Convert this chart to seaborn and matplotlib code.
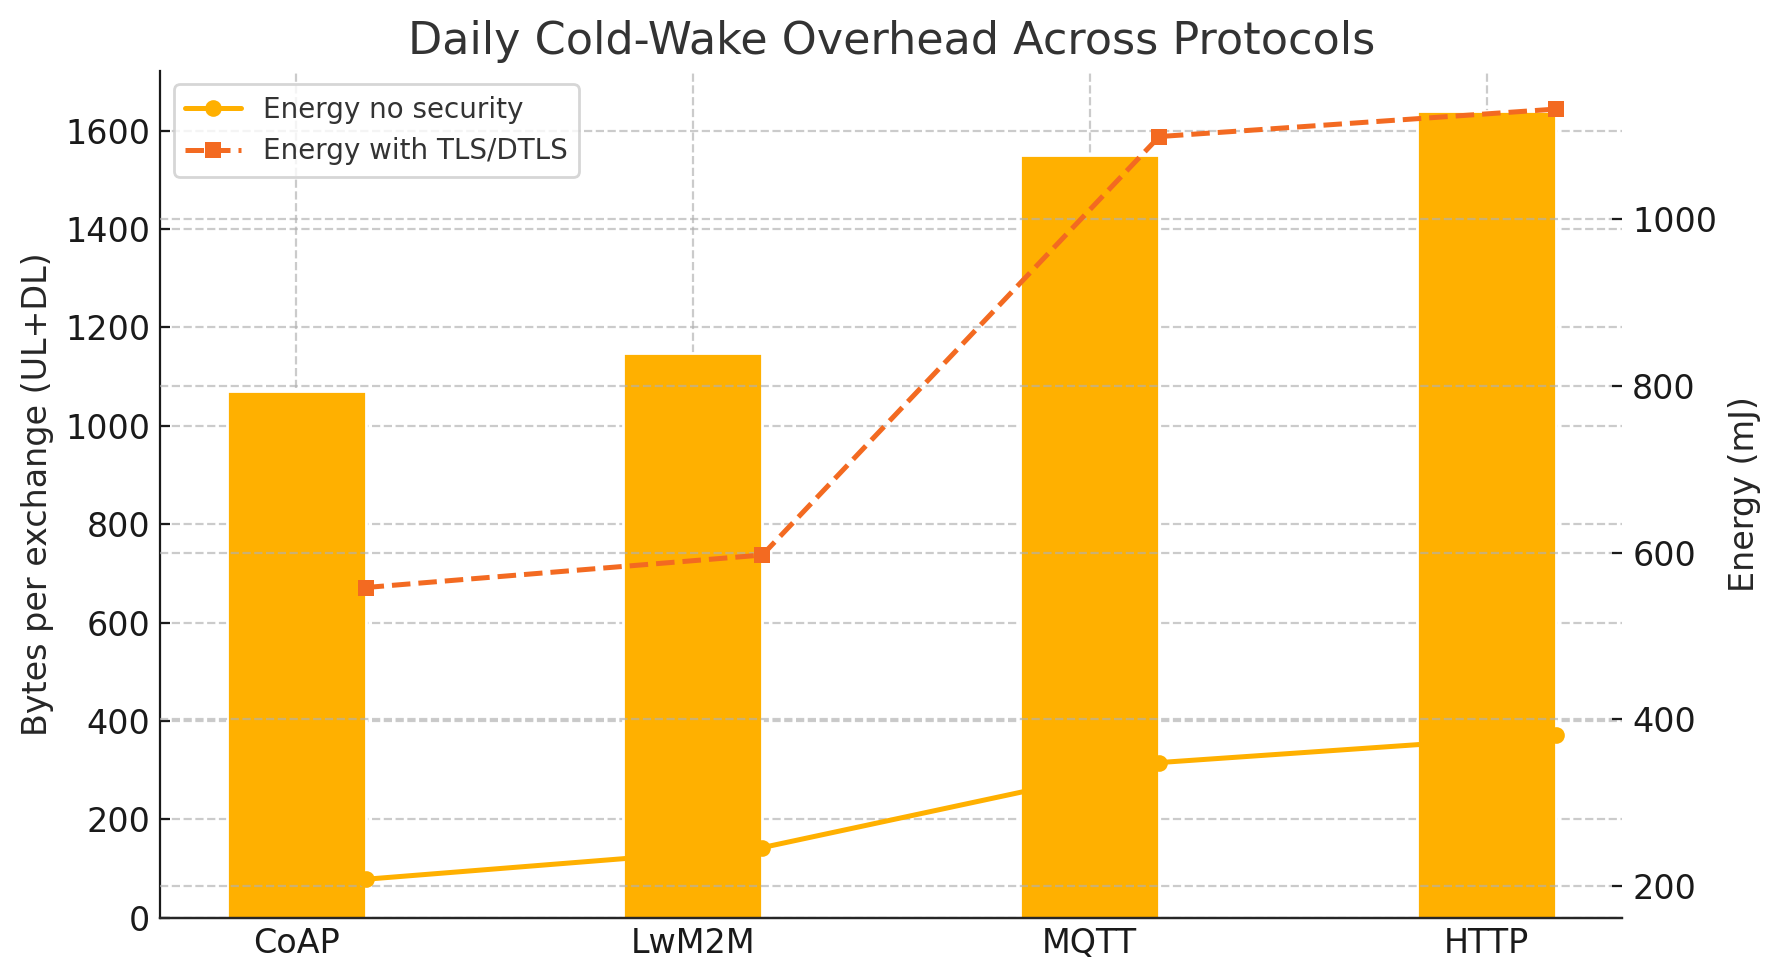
import numpy as np
import pandas as pd
import seaborn as sns
import matplotlib.pyplot as plt

protocols = ['CoAP', 'LwM2M', 'MQTT', 'HTTP']
bytes_per_exchange = [1070, 1147, 1551, 1640]
energy_no_sec = [208, 246, 348, 381]
energy_tls = [558, 597, 1099, 1132]

bar_color = '#FFB000'
tls_color = '#F36A21'

sns.set_style('white')
plt.rcParams.update({
    'xtick.direction': 'in',
    'ytick.direction': 'in',
    'xtick.bottom': True,
    'ytick.left': True,
    'ytick.right': True,
    'font.family': ['DejaVu Sans'],
})

df = pd.DataFrame({'Protocol': protocols, 'Bytes': bytes_per_exchange})

fig, ax1 = plt.subplots(figsize=(8.9, 4.9), dpi=200)
fig.subplots_adjust(left=0.090, right=0.9115, top=0.928, bottom=0.0635)

width = 0.35
sns.barplot(data=df, x='Protocol', y='Bytes', color=bar_color, width=width,
            saturation=1, ax=ax1)
ax1.set_xlabel('')
ax1.set_ylabel('Bytes per exchange (UL+DL)', fontsize=12)
ax1.set_xlim(-0.3425, 3.3425)
ax1.set_ylim(0, 1722)
ax1.tick_params(labelsize=12, colors='#1a1a1a')
ax1.grid(True, linestyle='--', color='#b0b0b0', alpha=0.65)
for s in ['top', 'right']:
    ax1.spines[s].set_visible(False)
ax1.spines['left'].set_color('#1a1a1a')
ax1.spines['bottom'].set_color('#1a1a1a')

# 折线画在柱子右边缘
x_line = np.arange(len(protocols)) + width / 2
ax2 = ax1.twinx()
sns.lineplot(x=x_line, y=energy_no_sec, marker='o', color=bar_color,
             linewidth=1.8, markersize=6, markeredgewidth=0,
             label='Energy no security', ax=ax2)
sns.lineplot(x=x_line, y=energy_tls, marker='s', color=tls_color,
             linestyle='--', linewidth=1.8, markersize=6, markeredgewidth=0,
             label='Energy with TLS/DTLS', ax=ax2)
ax2.set_ylabel('Energy (mJ)', fontsize=12)
ax2.set_ylim(161.8, 1178.2)
ax2.set_yticks([200, 400, 600, 800, 1000])
ax2.tick_params(labelsize=12, left=False, colors='#1a1a1a')
ax2.grid(True, linestyle='--', color='#b0b0b0', alpha=0.65)
for s in ['top', 'right', 'left']:
    ax2.spines[s].set_visible(False)
leg = ax2.legend(loc='upper left', fontsize=10, frameon=True)
for t in leg.get_texts():
    t.set_color('#333333')

ax1.set_title('Daily Cold-Wake Overhead Across Protocols', fontsize=16,
              color='#333333')

fig.savefig('out.png', dpi=200)
